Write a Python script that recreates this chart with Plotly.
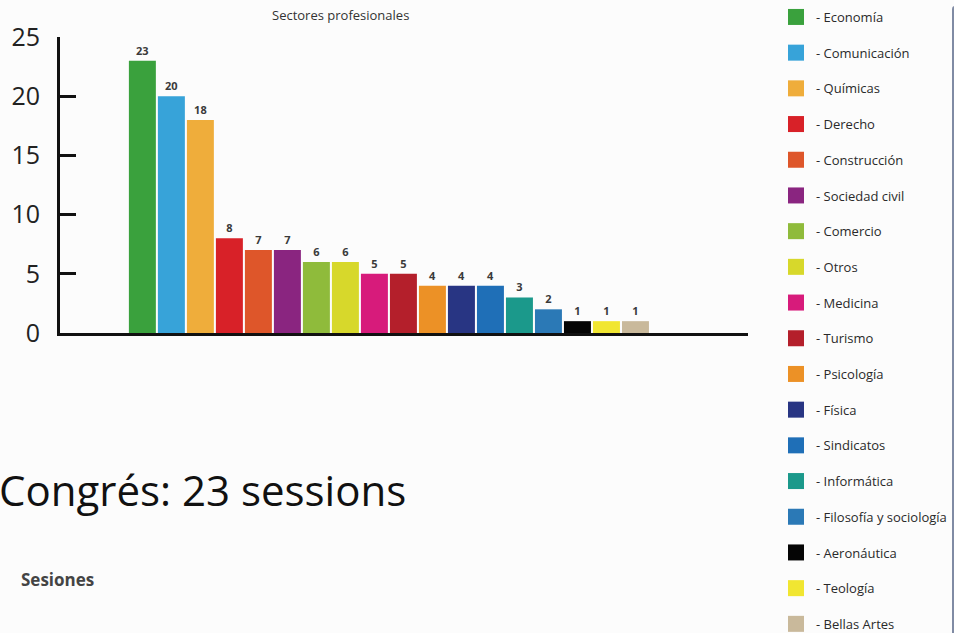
# Bar chart of professional sectors (Sectores profesionales) + text blocks below
import plotly.graph_objects as go

sectores = ["Economía", "Comunicación", "Químicas", "Derecho", "Construcción",
            "Sociedad civil", "Comercio", "Otros", "Medicina", "Turismo",
            "Psicología", "Física", "Sindicatos", "Informática",
            "Filosofía y sociología", "Aeronáutica", "Teología", "Bellas Artes"]
valores = [23, 20, 18, 8, 7, 7, 6, 6, 5, 5, 4, 4, 4, 3, 2, 1, 1, 1]
colores = ["#3aa13d", "#37a3d9", "#efad3b", "#d82128", "#de562a",
           "#8a2580", "#8fbb3b", "#d7d82b", "#d71b7b", "#b41f2b",
           "#ec9126", "#283583", "#1f6fb7", "#1b998b",
           "#2b79b6", "#050505", "#f1e631", "#c9b99b"]
y_ticks = [0, 5, 10, 15, 20, 25]

W, H = 954, 633
L, R, T, B = 60, 954 - 748, 37, 633 - 333
PW, PH = W - L - R, H - T - B


def px_x(x):  # window pixel -> paper x
    return (x - L) / PW


def px_y(y):  # window pixel -> paper y
    return 1 - (y - T) / PH


fig = go.Figure()
for i, (nom, val, col) in enumerate(zip(sectores, valores, colores)):
    fig.add_trace(go.Bar(
        x=[i], y=[val], showlegend=False,
        marker=dict(color=col, line=dict(width=0)),
        texttemplate="<b>%{y}</b>", textposition="outside", cliponaxis=False,
        outsidetextfont=dict(family="Open Sans", size=11, color="#3a3a3a"),
    ))
# legend entries with bigger square swatches
for nom, col in zip(sectores, colores):
    fig.add_trace(go.Scatter(
        x=[None], y=[None], mode="markers", name="- " + nom, legendgroup=nom,
        marker=dict(symbol="square", size=16, color=col),
    ))

fig.update_layout(
    width=W, height=H,
    margin=dict(l=L, r=R, t=T, b=B, autoexpand=False),
    paper_bgcolor="#fcfcfc", plot_bgcolor="#fcfcfc",
    barmode="overlay", bargap=0.07,
    showlegend=True,
    legend=dict(
        xref="container", yref="container",
        x=776 / W, y=1 - 2 / H, xanchor="left", yanchor="top",
        font=dict(family="Open Sans", size=13, color="#2a2a2a"),
        tracegroupgap=15.8, traceorder="grouped",
        bgcolor="rgba(0,0,0,0)", itemclick=False,
    ),
    xaxis=dict(
        range=[-2.84, 20.88], showticklabels=False, showgrid=False,
        zeroline=False, showline=True, linewidth=3, linecolor="#111111",
        ticks="",
    ),
    yaxis=dict(
        range=[0, 25], tickvals=y_ticks, showgrid=False, zeroline=False,
        showline=True, linewidth=3, linecolor="#111111",
        ticks="inside", ticklen=16, tickwidth=3, tickcolor="#111111",
        tickfont=dict(family="Open Sans", size=25, color="#222222"),
        ticklabelstandoff=12,
    ),
)
try:
    fig.update_layout(legend_maxheight=H)
except ValueError:
    pass

fig.add_annotation(
    text="Sectores profesionales", xref="paper", yref="paper",
    x=px_x(340), y=px_y(15), xanchor="center", yanchor="middle",
    showarrow=False,
    font=dict(family="Open Sans", size=13, color="#333333"),
)
# text blocks below the chart
fig.add_annotation(
    text="Congrés: 23 sessions", xref="paper", yref="paper",
    x=px_x(-3), y=px_y(489), xanchor="left", yanchor="middle",
    showarrow=False,
    font=dict(family="Open Sans", size=42, color="#111111"),
)
fig.add_annotation(
    text="<b>Sesiones</b>", xref="paper", yref="paper",
    x=px_x(19), y=px_y(579), xanchor="left", yanchor="middle",
    showarrow=False,
    font=dict(family="Open Sans", size=17, color="#444444"),
)

# drop the default 8px body margin so the figure fills the window
fig.write_html("out.html", config={"displayModeBar": False},
               post_script="document.body.style.margin='0';")
